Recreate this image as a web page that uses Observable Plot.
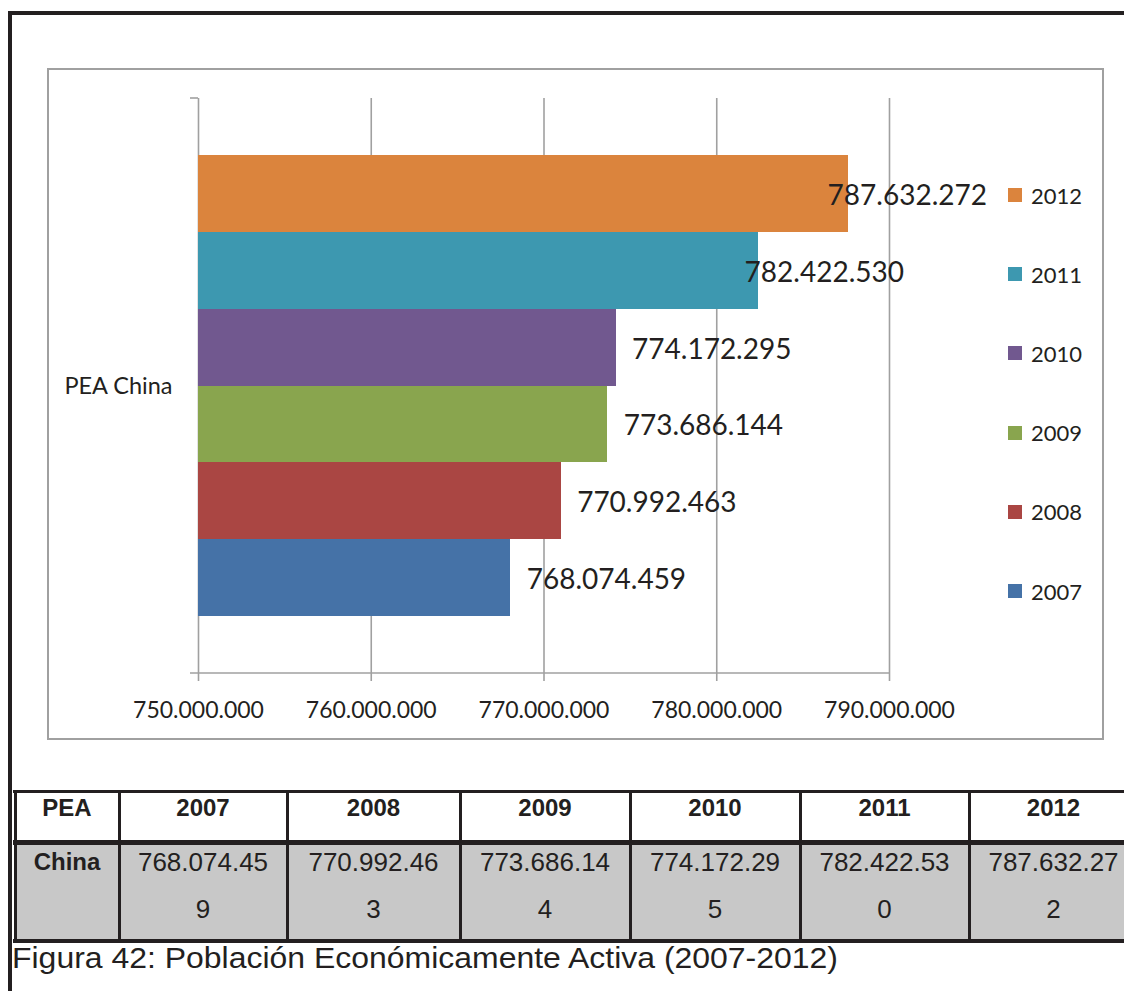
<!DOCTYPE html>
<html>
<head>
<meta charset="utf-8">
<script src="https://cdn.jsdelivr.net/npm/d3@7"></script>
<script src="https://cdn.jsdelivr.net/npm/@observablehq/plot@0.6"></script>
<style>
  html, body { margin:0; padding:0; background:#fff; }
  body { width:1124px; height:991px; position:relative; overflow:hidden; }
  .abs { position:absolute; }
  #frame { left:8px; top:11px; width:1300px; height:1100px; border-left:4px solid #231f20; border-top:4px solid #231f20; }
  #box { left:47px; top:68px; width:1057px; height:672px; border:2px solid #a0a0a0; box-sizing:border-box; }
  #chart { left:0; top:0; }
  .leg { font-family:Lato, sans-serif; font-size:22px; color:#231f20; display:flex; align-items:center; height:30px; }
  .sw { width:14px; height:14px; margin-right:9px; }
  .hl { background:#231f20; }
  .tcell { font-family:"Liberation Sans", Arial, sans-serif; color:#231f20; text-align:center; white-space:nowrap; }
  .hdr { font-weight:bold; font-size:24px; line-height:24px; }
  .val { font-size:26px; line-height:26px; }
  #caption { left:12px; top:944px; font-family:"Liberation Sans", Arial, sans-serif; font-size:29px; line-height:29px; color:#231f20; white-space:nowrap; transform-origin:0 0; }
</style>
</head>
<body>
<div id="frame" class="abs"></div>
<div id="box" class="abs"></div>
<div id="chart" class="abs"></div>
<div id="legend"></div>
<div id="table"></div>
<div id="caption" class="abs"></div>
<script>
// ---- data ----
const categories = ["PEA China"];
const years = ["2007", "2008", "2009", "2010", "2011", "2012"];
const values = [768074459, 770992463, 773686144, 774172295, 782422530, 787632272];
const colors = ["#4572a7", "#aa4643", "#89a54e", "#71588f", "#3d98b0", "#db843d"];
const xTicks = [750000000, 760000000, 770000000, 780000000, 790000000];
const tableCorner = "PEA";
const tableRowLabel = "China";
const captionText = "Figura 42: Población Económicamente Activa (2007-2012)";

// ---- style-only settings ----
const labelDx = {"2011": -14, "2012": -21};

const fmt = d3.formatLocale({decimal: ",", thousands: ".", grouping: [3], currency: ["", ""]}).format(",");
const data = years.map((y, i) => ({year: y, value: values[i]}));
const xMin = xTicks[0], xMax = xTicks[xTicks.length - 1];

const labelMarks = data.map(d => Plot.text([d], {
  x: "value", y: "year", text: r => fmt(r.value),
  dx: labelDx[d.year] ?? 16, dy: 2, textAnchor: "start",
  fontSize: 28, fill: "#231f20"
}));

const plot = Plot.plot({
  width: 1124, height: 760,
  marginLeft: 198, marginRight: 235, marginTop: 98, marginBottom: 87,
  style: {fontFamily: "Lato, sans-serif", background: "transparent", overflow: "visible"},
  x: {domain: [xMin, xMax], axis: null},
  y: {domain: years.slice().reverse(), axis: null, padding: 0, round: false, insetTop: 57, insetBottom: 57},
  color: {domain: years, range: colors},
  marks: [
    Plot.gridX(xTicks, {stroke: "#a0a0a0", strokeOpacity: 1, strokeWidth: 1.6}),
    Plot.axisX(xTicks, {anchor: "bottom", label: null, tickSize: 8, tickPadding: 20, tickFormat: fmt,
      fontSize: 23, stroke: "#a0a0a0", strokeWidth: 1.6, fill: "#231f20"}),
    Plot.barX(data, {x1: d => xMin, x2: "value", y: "year", fill: "year", shapeRendering: "crispEdges"}),
    ...labelMarks,
    Plot.text(categories, {frameAnchor: "left", dx: -26, textAnchor: "end", fontSize: 23.5, fill: "#231f20", text: d => d})
  ]
});

// category-axis line and top tick, positioned from the plot's own scale
const sx = plot.scale("x");
const px0 = sx.apply(xMin), px1 = sx.apply(xMax);
const yTop = 98, yBot = 760 - 87;
const g = d3.select(plot).append("g").attr("stroke", "#a0a0a0").attr("stroke-width", 1.6);
g.append("line").attr("x1", px0 - 8).attr("x2", px0).attr("y1", yTop).attr("y2", yTop);
g.append("line").attr("x1", px0 - 8).attr("x2", px1).attr("y1", yBot).attr("y2", yBot);
document.getElementById("chart").appendChild(plot);

// ---- legend (2012 at top) ----
const legend = document.getElementById("legend");
years.slice().reverse().forEach((y, i) => {
  const idx = years.indexOf(y);
  const item = document.createElement("div");
  item.className = "abs leg";
  item.style.left = "1008px";
  item.style.top = (180 + i * 79.2) + "px";
  item.innerHTML = `<div class="sw" style="background:${colors[idx]}"></div><span>${y}</span>`;
  legend.appendChild(item);
});

// ---- table ----
const table = document.getElementById("table");
const colX = [15, 119, 287, 460, 630, 800, 969, 1138];
function addDiv(cls, css, html) {
  const d = document.createElement("div");
  d.className = "abs " + cls;
  Object.assign(d.style, css);
  if (html != null) d.innerHTML = html;
  table.appendChild(d);
  return d;
}
addDiv("", {left: "15px", top: "843px", width: "1200px", height: "98px", background: "#c8c8c8"});
addDiv("hl", {left: "13px", top: "790px", width: "1200px", height: "3px"});
addDiv("hl", {left: "13px", top: "840px", width: "1200px", height: "5px"});
addDiv("hl", {left: "13px", top: "939px", width: "1200px", height: "4px"});
colX.forEach(x => addDiv("hl", {left: (x - 1.5) + "px", top: "790px", width: "3px", height: "153px"}));
const headers = [tableCorner, ...years];
headers.forEach((h, i) => {
  const w = colX[i + 1] - colX[i];
  addDiv("tcell hdr", {left: colX[i] + "px", width: w + "px", top: "796px"}, h);
});
addDiv("tcell hdr", {left: colX[0] + "px", width: (colX[1] - colX[0]) + "px", top: "850px"}, tableRowLabel);
values.forEach((v, i) => {
  const s = fmt(v);
  const left = colX[i + 1], w = colX[i + 2] - colX[i + 1];
  addDiv("tcell val", {left: left + "px", width: w + "px", top: "849px"}, s.slice(0, -1));
  addDiv("tcell val", {left: left + "px", width: w + "px", top: "896px"}, s.slice(-1));
});

// caption, stretched horizontally to the reference width
const cap = document.getElementById("caption");
cap.textContent = captionText;
const cw = cap.getBoundingClientRect().width;
cap.style.transform = `scaleX(${826 / cw})`;
</script>
</body>
</html>
